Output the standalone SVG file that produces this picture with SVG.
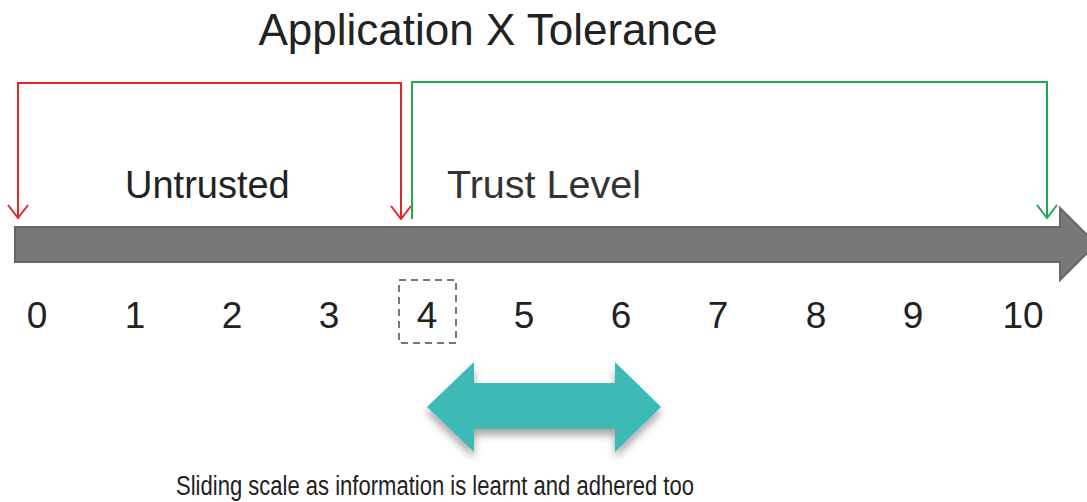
<svg xmlns="http://www.w3.org/2000/svg" width="1087" height="502" viewBox="0 0 1087 502">
<defs>
<style>
text{font-family:"Liberation Sans",Arial,sans-serif;fill:#222}
.num{font-size:37px;text-anchor:middle}
.red{stroke:#e5252a;stroke-width:2;fill:none}
.green{stroke:#22a84f;stroke-width:2;fill:none}
</style>
<marker id="ar" viewBox="0 0 24 16" refX="12" refY="15" markerWidth="24" markerHeight="16" markerUnits="userSpaceOnUse" orient="0">
<path d="M2,2 L12,15 L22,2" fill="none" stroke="#e5252a" stroke-width="2"/>
</marker>
<marker id="ag" viewBox="0 0 24 16" refX="12" refY="15" markerWidth="24" markerHeight="16" markerUnits="userSpaceOnUse" orient="0">
<path d="M2,2 L12,15 L22,2" fill="none" stroke="#22a84f" stroke-width="2"/>
</marker>
<filter id="sh" x="-20%" y="-30%" width="140%" height="170%">
<feGaussianBlur in="SourceAlpha" stdDeviation="4"/>
<feOffset dy="6"/>
<feComponentTransfer><feFuncA type="linear" slope="0.35"/></feComponentTransfer>
<feMerge><feMergeNode/><feMergeNode in="SourceGraphic"/></feMerge>
</filter>
</defs>
<rect width="1087" height="502" fill="#fff"/>
<g id="title"><text x="488" y="45" font-size="44" text-anchor="middle">Application X Tolerance</text></g>
<g id="scale-bar">
<path d="M15,227 H1060 V208 L1096,244 L1060,280 V262 H15 Z" fill="#777" stroke="#666" stroke-width="2"/>
</g>
<g id="connectors">
<path class="red" d="M18,218 V83 H401 V219" marker-start="url(#ar)" marker-end="url(#ar)"/>
<path class="green" d="M412,219 V82 H1047 V218" marker-end="url(#ag)"/>
</g>
<g id="labels">
<text x="125" y="198" font-size="38">Untrusted</text>
<text x="447" y="198" font-size="38" textLength="194" lengthAdjust="spacingAndGlyphs" style="fill:#333">Trust Level</text>
</g>
<g id="numbers">
<text class="num" x="37" y="328">0</text>
<text class="num" x="135" y="328">1</text>
<text class="num" x="232" y="328">2</text>
<text class="num" x="329" y="328">3</text>
<text class="num" x="427" y="328">4</text>
<text class="num" x="524" y="328">5</text>
<text class="num" x="621" y="328">6</text>
<text class="num" x="718" y="328">7</text>
<text class="num" x="816" y="328">8</text>
<text class="num" x="913" y="328">9</text>
<text class="num" x="1023" y="328">10</text>
</g>
<g id="highlight-box">
<rect x="399" y="280" width="57" height="63" fill="none" stroke="#777" stroke-width="2" stroke-dasharray="7,5"/>
</g>
<g id="sliding-arrow">
<path d="M427,407 L474,362 V383 H615 V362 L661,407 L615,452 V429 H474 V452 Z" fill="#3cb9b6" filter="url(#sh)"/>
</g>
<g id="caption"><text x="176" y="495" font-size="27" textLength="518" lengthAdjust="spacingAndGlyphs">Sliding scale as information is learnt and adhered too</text></g>
</svg>
